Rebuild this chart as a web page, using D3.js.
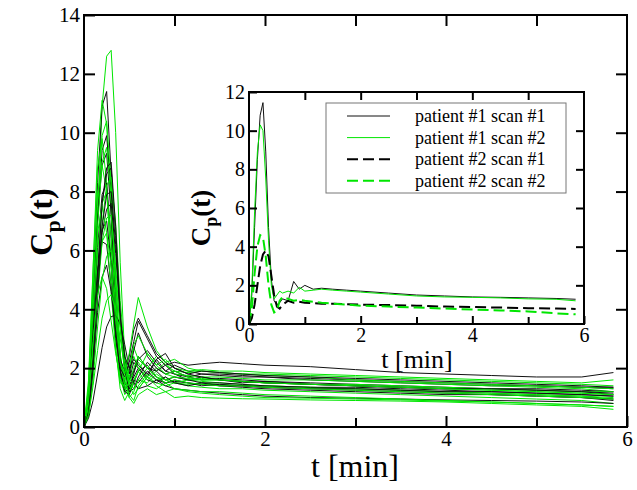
<!DOCTYPE html>
<html>
<head>
<meta charset="utf-8">
<script src="https://cdn.jsdelivr.net/npm/d3@7"></script>
<style>
  body { margin: 0; background: #fff; }
  svg { display: block; font-family: "Liberation Serif", "DejaVu Serif", serif; }
</style>
</head>
<body>
<div id="chart"></div>
<script>
// sample times (min) shared by all curves
var times = [0, 0.05, 0.1, 0.15, 0.2, 0.25, 0.3, 0.35, 0.4, 0.45, 0.5, 0.55, 0.6, 0.7, 0.8, 0.9, 1.0, 1.15, 1.3, 1.5, 1.75, 2.0, 2.5, 3.0, 3.5, 4.0, 4.5, 5.0, 5.5, 5.85];

// main plot, black curves
var blackCurves = [
  [0, 1.2, 4.5, 8.3, 10.9, 11.4, 8.6, 4.9, 2.3, 1.4, 1.6, 2.2, 2.0, 1.7, 2.3, 1.9, 1.8, 1.6, 1.7, 1.6, 1.5, 1.55, 1.45, 1.4, 1.35, 1.3, 1.3, 1.25, 1.2, 1.1],
  [0, 0.9, 3.6, 7.0, 9.4, 9.9, 8.0, 4.6, 2.4, 1.5, 1.3, 1.8, 2.4, 2.0, 1.9, 2.1, 1.8, 1.7, 1.8, 1.75, 1.7, 1.7, 1.6, 1.55, 1.5, 1.45, 1.4, 1.4, 1.35, 1.3],
  [0, 1.0, 3.9, 7.1, 8.9, 9.3, 7.2, 4.0, 2.0, 1.2, 1.1, 1.5, 1.9, 2.1, 1.7, 1.5, 1.6, 1.5, 1.4, 1.45, 1.4, 1.35, 1.3, 1.25, 1.2, 1.15, 1.1, 1.05, 1.0, 0.95],
  [0, 0.6, 2.5, 5.3, 7.6, 8.6, 8.8, 6.5, 3.6, 2.0, 1.6, 1.9, 2.3, 2.6, 2.2, 1.9, 2.1, 1.9, 1.8, 1.8, 1.75, 1.7, 1.65, 1.6, 1.55, 1.5, 1.45, 1.4, 1.35, 1.35],
  [0, 0.8, 3.2, 6.1, 7.9, 8.3, 6.4, 3.5, 1.9, 1.3, 1.4, 1.7, 2.0, 1.6, 1.5, 1.7, 1.5, 1.4, 1.5, 1.4, 1.35, 1.3, 1.25, 1.2, 1.15, 1.1, 1.1, 1.05, 1.0, 0.9],
  [0, 0.5, 2.2, 4.6, 6.6, 7.4, 7.6, 5.9, 3.7, 2.3, 1.8, 2.6, 3.2, 2.4, 2.0, 1.8, 1.9, 1.7, 1.6, 1.65, 1.6, 1.55, 1.5, 1.45, 1.4, 1.35, 1.3, 1.3, 1.25, 1.2],
  [0, 0.7, 2.8, 5.2, 6.7, 7.0, 5.6, 3.3, 1.8, 1.2, 1.3, 1.6, 1.5, 1.9, 1.6, 1.4, 1.3, 1.25, 1.2, 1.15, 1.1, 1.05, 1.0, 0.98, 0.95, 0.92, 0.9, 0.88, 0.85, 0.8],
  [0, 0.9, 3.2, 5.3, 6.3, 6.2, 4.8, 3.0, 2.0, 1.7, 2.2, 2.9, 3.6, 3.0, 2.4, 2.1, 2.2, 2.1, 2.15, 2.2, 2.15, 2.1, 2.05, 1.95, 1.85, 1.8, 1.75, 1.7, 1.7, 1.85],
  [0, 0.5, 2.0, 3.9, 5.1, 5.5, 4.6, 3.2, 2.3, 1.9, 2.4, 3.3, 3.7, 3.1, 2.5, 2.2, 2.0, 1.8, 1.7, 1.6, 1.55, 1.5, 1.45, 1.4, 1.35, 1.3, 1.3, 1.25, 1.2, 1.15],
  [0, 0.3, 0.9, 1.8, 2.7, 3.4, 3.75, 3.8, 3.5, 2.8, 2.0, 1.5, 1.3, 1.4, 1.6, 1.5, 1.55, 1.5, 1.45, 1.4, 1.4, 1.35, 1.3, 1.3, 1.25, 1.2, 1.2, 1.15, 1.1, 1.05],
  [0, 0.5, 2.3, 5.0, 7.6, 8.8, 9.0, 6.8, 3.9, 2.0, 1.2, 1.3, 1.7, 2.2, 1.9, 1.6, 1.7, 1.6, 1.5, 1.5, 1.45, 1.4, 1.35, 1.35, 1.3, 1.25, 1.2, 1.15, 1.1, 1.05],
  [0, 0.4, 2.0, 4.5, 6.8, 7.9, 8.0, 6.2, 3.8, 2.4, 2.0, 2.3, 2.1, 1.8, 2.3, 2.5, 2.0, 1.8, 1.9, 1.85, 1.8, 1.75, 1.7, 1.65, 1.6, 1.55, 1.5, 1.45, 1.4, 1.35]
];

// main plot, green curves
var greenCurves = [
  [0, 0.6, 3.0, 7.0, 10.9, 12.6, 12.8, 10.0, 5.6, 2.4, 1.1, 0.9, 1.4, 1.8, 1.6, 1.7, 1.5, 1.45, 1.5, 1.45, 1.4, 1.4, 1.35, 1.3, 1.25, 1.2, 1.15, 1.1, 1.05, 1.0],
  [0, 1.4, 5.3, 9.4, 11.1, 10.3, 7.2, 3.8, 1.8, 1.1, 1.3, 1.9, 2.2, 1.7, 2.0, 1.8, 1.7, 1.6, 1.65, 1.6, 1.55, 1.5, 1.45, 1.4, 1.35, 1.3, 1.25, 1.2, 1.15, 1.1],
  [0, 1.0, 3.9, 7.5, 9.9, 10.4, 8.3, 4.8, 2.5, 1.4, 1.0, 1.2, 1.6, 1.5, 1.8, 1.6, 1.5, 1.6, 1.55, 1.5, 1.45, 1.4, 1.35, 1.3, 1.25, 1.2, 1.15, 1.1, 1.05, 0.95],
  [0, 1.6, 5.4, 8.8, 9.8, 8.3, 5.3, 2.7, 1.3, 0.9, 1.2, 1.5, 1.3, 1.7, 1.5, 1.4, 1.5, 1.4, 1.35, 1.3, 1.3, 1.25, 1.2, 1.15, 1.1, 1.05, 1.0, 0.95, 0.9, 0.8],
  [0, 0.8, 3.4, 6.8, 9.0, 9.5, 7.8, 4.7, 2.4, 1.6, 2.0, 2.7, 2.3, 2.0, 2.4, 2.1, 1.9, 1.85, 1.9, 1.85, 1.8, 1.8, 1.75, 1.7, 1.65, 1.6, 1.55, 1.5, 1.45, 1.4],
  [0, 1.3, 4.7, 7.9, 8.9, 8.0, 5.6, 3.0, 1.6, 1.2, 1.7, 2.4, 2.0, 1.6, 1.9, 2.2, 1.8, 1.75, 1.7, 1.7, 1.65, 1.6, 1.6, 1.55, 1.5, 1.45, 1.4, 1.35, 1.3, 1.2],
  [0, 0.4, 1.9, 4.4, 6.9, 8.2, 8.5, 6.9, 4.3, 2.5, 1.6, 1.5, 1.9, 2.5, 2.1, 1.8, 1.9, 1.7, 1.6, 1.6, 1.55, 1.5, 1.45, 1.45, 1.4, 1.35, 1.3, 1.25, 1.2, 1.2],
  [0, 0.8, 3.0, 5.9, 7.6, 8.0, 6.5, 4.0, 2.2, 1.4, 1.2, 1.6, 1.9, 1.4, 1.3, 1.5, 1.3, 1.25, 1.2, 1.2, 1.15, 1.1, 1.05, 1.0, 0.95, 0.9, 0.85, 0.8, 0.75, 0.7],
  [0, 1.2, 4.0, 6.6, 7.5, 6.6, 4.6, 2.6, 1.5, 1.4, 2.0, 2.8, 3.1, 2.5, 2.1, 2.3, 2.0, 1.9, 1.95, 1.9, 1.9, 1.85, 1.8, 1.75, 1.7, 1.65, 1.6, 1.55, 1.5, 1.6],
  [0, 0.5, 2.1, 4.4, 6.3, 7.1, 7.2, 5.5, 3.3, 1.8, 1.0, 0.8, 1.1, 1.3, 1.1, 1.2, 1.0, 1.05, 1.0, 0.98, 0.96, 0.95, 0.92, 0.9, 0.88, 0.85, 0.8, 0.75, 0.7, 0.6],
  [0, 0.7, 2.6, 4.9, 6.3, 6.6, 5.5, 3.6, 2.2, 1.8, 2.5, 3.5, 4.4, 3.4, 2.6, 2.2, 2.3, 2.0, 1.9, 1.85, 1.8, 1.75, 1.7, 1.6, 1.55, 1.5, 1.45, 1.4, 1.35, 1.3],
  [0, 0.4, 1.6, 3.4, 5.0, 5.8, 6.0, 5.0, 3.4, 2.2, 1.5, 1.3, 1.6, 2.0, 1.7, 1.5, 1.6, 1.5, 1.45, 1.4, 1.4, 1.35, 1.3, 1.25, 1.2, 1.15, 1.1, 1.05, 1.0, 0.95],
  [0, 0.9, 2.9, 4.5, 5.1, 4.7, 3.6, 2.5, 1.7, 1.3, 1.5, 2.0, 2.4, 2.0, 1.7, 1.6, 1.7, 1.65, 1.6, 1.6, 1.55, 1.5, 1.45, 1.4, 1.35, 1.3, 1.25, 1.2, 1.15, 1.1],
  [0, 0.4, 1.4, 2.6, 3.7, 4.3, 4.5, 4.0, 3.0, 2.0, 1.4, 1.1, 1.3, 1.7, 1.4, 1.2, 1.3, 1.2, 1.15, 1.1, 1.05, 1.0, 0.98, 0.95, 0.92, 0.88, 0.85, 0.8, 0.75, 0.7]
];

// inset curves
var p1scan1 = [0, 1.5, 5.0, 8.5, 10.8, 11.45, 8.9, 5.0, 2.3, 1.2, 1.0, 1.1, 1.3, 1.2, 2.2, 1.8, 2.0, 1.8, 1.85, 1.8, 1.75, 1.7, 1.6, 1.5, 1.45, 1.4, 1.38, 1.35, 1.32, 1.28];
var p1scan2 = [0, 1.8, 5.8, 8.9, 10.3, 10.0, 7.5, 4.3, 2.0, 1.3, 1.5, 1.7, 1.6, 1.7, 1.6, 1.9, 1.7, 1.75, 1.8, 1.75, 1.7, 1.65, 1.55, 1.45, 1.4, 1.38, 1.35, 1.3, 1.28, 1.2];
var p2scan1 = [0, 0.3, 1.0, 2.0, 3.0, 3.6, 3.8, 3.5, 2.5, 1.5, 0.9, 0.8, 1.0, 1.2, 1.1, 1.15, 1.1, 1.08, 1.05, 1.05, 1.02, 1.0, 0.98, 0.95, 0.9, 0.88, 0.85, 0.82, 0.8, 0.78];
var p2scan2 = [0, 0.8, 2.6, 4.0, 4.6, 4.5, 3.5, 2.0, 1.0, 0.6, 0.7, 1.2, 1.4, 1.3, 1.2, 1.25, 1.2, 1.15, 1.1, 1.05, 1.0, 0.95, 0.9, 0.85, 0.8, 0.75, 0.7, 0.65, 0.55, 0.5];

var legendLabels = ["patient #1 scan #1", "patient #1 scan #2", "patient #2 scan #1", "patient #2 scan #2"];

var GREEN = "#00e600";
var SERIF = "'Liberation Serif', 'DejaVu Serif', serif";

var svg = d3.select("#chart").append("svg")
    .attr("width", 637)
    .attr("height", 490);

// main plot area
var main = { left: 84, top: 15, right: 627, bottom: 427 };
var x = d3.scaleLinear().domain([0, 6]).range([main.left, main.right]);
var y = d3.scaleLinear().domain([0, 14]).range([main.bottom, main.top]);

var line = function(xs, ys) {
  return d3.line()
    .x((d, i) => xs(times[i]))
    .y(d => ys(d));
};

var mainLine = line(x, y);

// interleave greens and blacks so they overlap like the original
var mainSeries = [];
for (var i = 0; i < greenCurves.length; i++) {
  mainSeries.push({ c: greenCurves[i], col: GREEN });
  if (i < blackCurves.length) mainSeries.push({ c: blackCurves[i], col: "#111" });
}

svg.append("g").selectAll("path")
    .data(mainSeries)
    .enter().append("path")
    .attr("d", d => mainLine(d.c))
    .attr("fill", "none")
    .attr("stroke", d => d.col)
    .attr("stroke-width", 1);

function drawAxes(xs, ys, yTicks, major, minor, fs) {
  var g = svg.append("g");
  var b = ys.range()[0], t = ys.range()[1], l = xs.range()[0], r = xs.range()[1];
  g.append("g").attr("transform", `translate(0,${b})`)
    .call(d3.axisBottom(xs).tickValues([0, 2, 4, 6]).tickSizeInner(-major).tickSizeOuter(0).tickPadding(4).tickFormat(d3.format("d")));
  g.append("g").attr("transform", `translate(0,${b})`)
    .call(d3.axisBottom(xs).tickValues([1, 3, 5]).tickSizeInner(-minor).tickSizeOuter(0).tickFormat(""));
  g.append("g").attr("transform", `translate(0,${t})`)
    .call(d3.axisTop(xs).tickValues([1, 2, 3, 4, 5]).tickSizeInner(-major).tickSizeOuter(0).tickFormat(""));
  g.append("g").attr("transform", `translate(${l},0)`)
    .call(d3.axisLeft(ys).tickValues(yTicks).tickSizeInner(-major).tickSizeOuter(0).tickPadding(4).tickFormat(d3.format("d")));
  g.append("g").attr("transform", `translate(${r},0)`)
    .call(d3.axisRight(ys).tickValues(yTicks.slice(1, -1)).tickSizeInner(-major).tickSizeOuter(0).tickFormat(""));
  g.selectAll(".domain").remove();
  g.selectAll(".tick line").attr("stroke", "#000").attr("stroke-width", 2);
  g.selectAll(".tick text")
    .attr("fill", "#000")
    .style("font-family", SERIF)
    .style("font-size", fs + "px");
  g.append("rect")
    .attr("x", l).attr("y", t).attr("width", r - l).attr("height", b - t)
    .attr("fill", "none").attr("stroke", "#000").attr("stroke-width", 2);
}

drawAxes(x, y, [0, 2, 4, 6, 8, 10, 12, 14], 11, 9, 21);

// main axis titles
svg.append("text")
    .attr("x", 355).attr("y", 477)
    .attr("text-anchor", "middle")
    .style("font-family", SERIF)
    .style("font-size", "32px")
    .text("t [min]");

var yl = svg.append("text")
    .attr("transform", "translate(52,222) rotate(-90)")
    .attr("text-anchor", "middle")
    .style("font-family", SERIF)
    .style("font-size", "32px")
    .style("font-weight", "bold");
yl.append("tspan").text("C");
yl.append("tspan").attr("dy", 8).style("font-size", "22px").text("p");
yl.append("tspan").attr("dy", -8).text("(t)");

// inset
var ins = { left: 249, top: 92, right: 584, bottom: 324 };
svg.append("rect")
    .attr("x", ins.left).attr("y", ins.top)
    .attr("width", ins.right - ins.left).attr("height", ins.bottom - ins.top)
    .attr("fill", "#fff");

var xi = d3.scaleLinear().domain([0, 6]).range([ins.left, ins.right]);
var yi = d3.scaleLinear().domain([0, 12]).range([ins.bottom, ins.top]);
var insetLine = line(xi, yi);

var insetSeries = [
  { v: p1scan1, col: "#111", w: 1, dash: null },
  { v: p1scan2, col: GREEN, w: 1, dash: null },
  { v: p2scan1, col: "#000", w: 2, dash: "11,5" },
  { v: p2scan2, col: GREEN, w: 2, dash: "11,5" }
];

svg.append("g").selectAll("path")
    .data(insetSeries)
    .enter().append("path")
    .attr("d", d => insetLine(d.v))
    .attr("fill", "none")
    .attr("stroke", d => d.col)
    .attr("stroke-width", d => d.w)
    .attr("stroke-dasharray", d => d.dash);

drawAxes(xi, yi, [0, 2, 4, 6, 8, 10, 12], 8, 7, 20);

svg.append("text")
    .attr("x", 417).attr("y", 368)
    .attr("text-anchor", "middle")
    .style("font-family", SERIF)
    .style("font-size", "26px")
    .text("t [min]");

var yli = svg.append("text")
    .attr("transform", "translate(210,218) rotate(-90)")
    .attr("text-anchor", "middle")
    .style("font-family", SERIF)
    .style("font-size", "27px")
    .style("font-weight", "bold");
yli.append("tspan").text("C");
yli.append("tspan").attr("dy", 7).style("font-size", "18px").text("p");
yli.append("tspan").attr("dy", -7).text("(t)");

// legend
var leg = svg.append("g");
leg.append("rect")
    .attr("x", 326).attr("y", 103).attr("width", 240).attr("height", 90)
    .attr("fill", "#fff").attr("stroke", "#777").attr("stroke-width", 1);
var rows = leg.selectAll("g.row")
    .data(insetSeries)
    .enter().append("g")
    .attr("transform", (d, i) => `translate(0,${116 + i * 21.6})`);
rows.append("line")
    .attr("x1", 347).attr("x2", 390)
    .attr("stroke", d => d.col)
    .attr("stroke-width", d => d.w)
    .attr("stroke-dasharray", d => d.dash);
rows.append("text")
    .attr("x", 415).attr("y", 6)
    .style("font-family", SERIF)
    .style("font-size", "18px")
    .text((d, i) => legendLabels[i]);
</script>
</body>
</html>
